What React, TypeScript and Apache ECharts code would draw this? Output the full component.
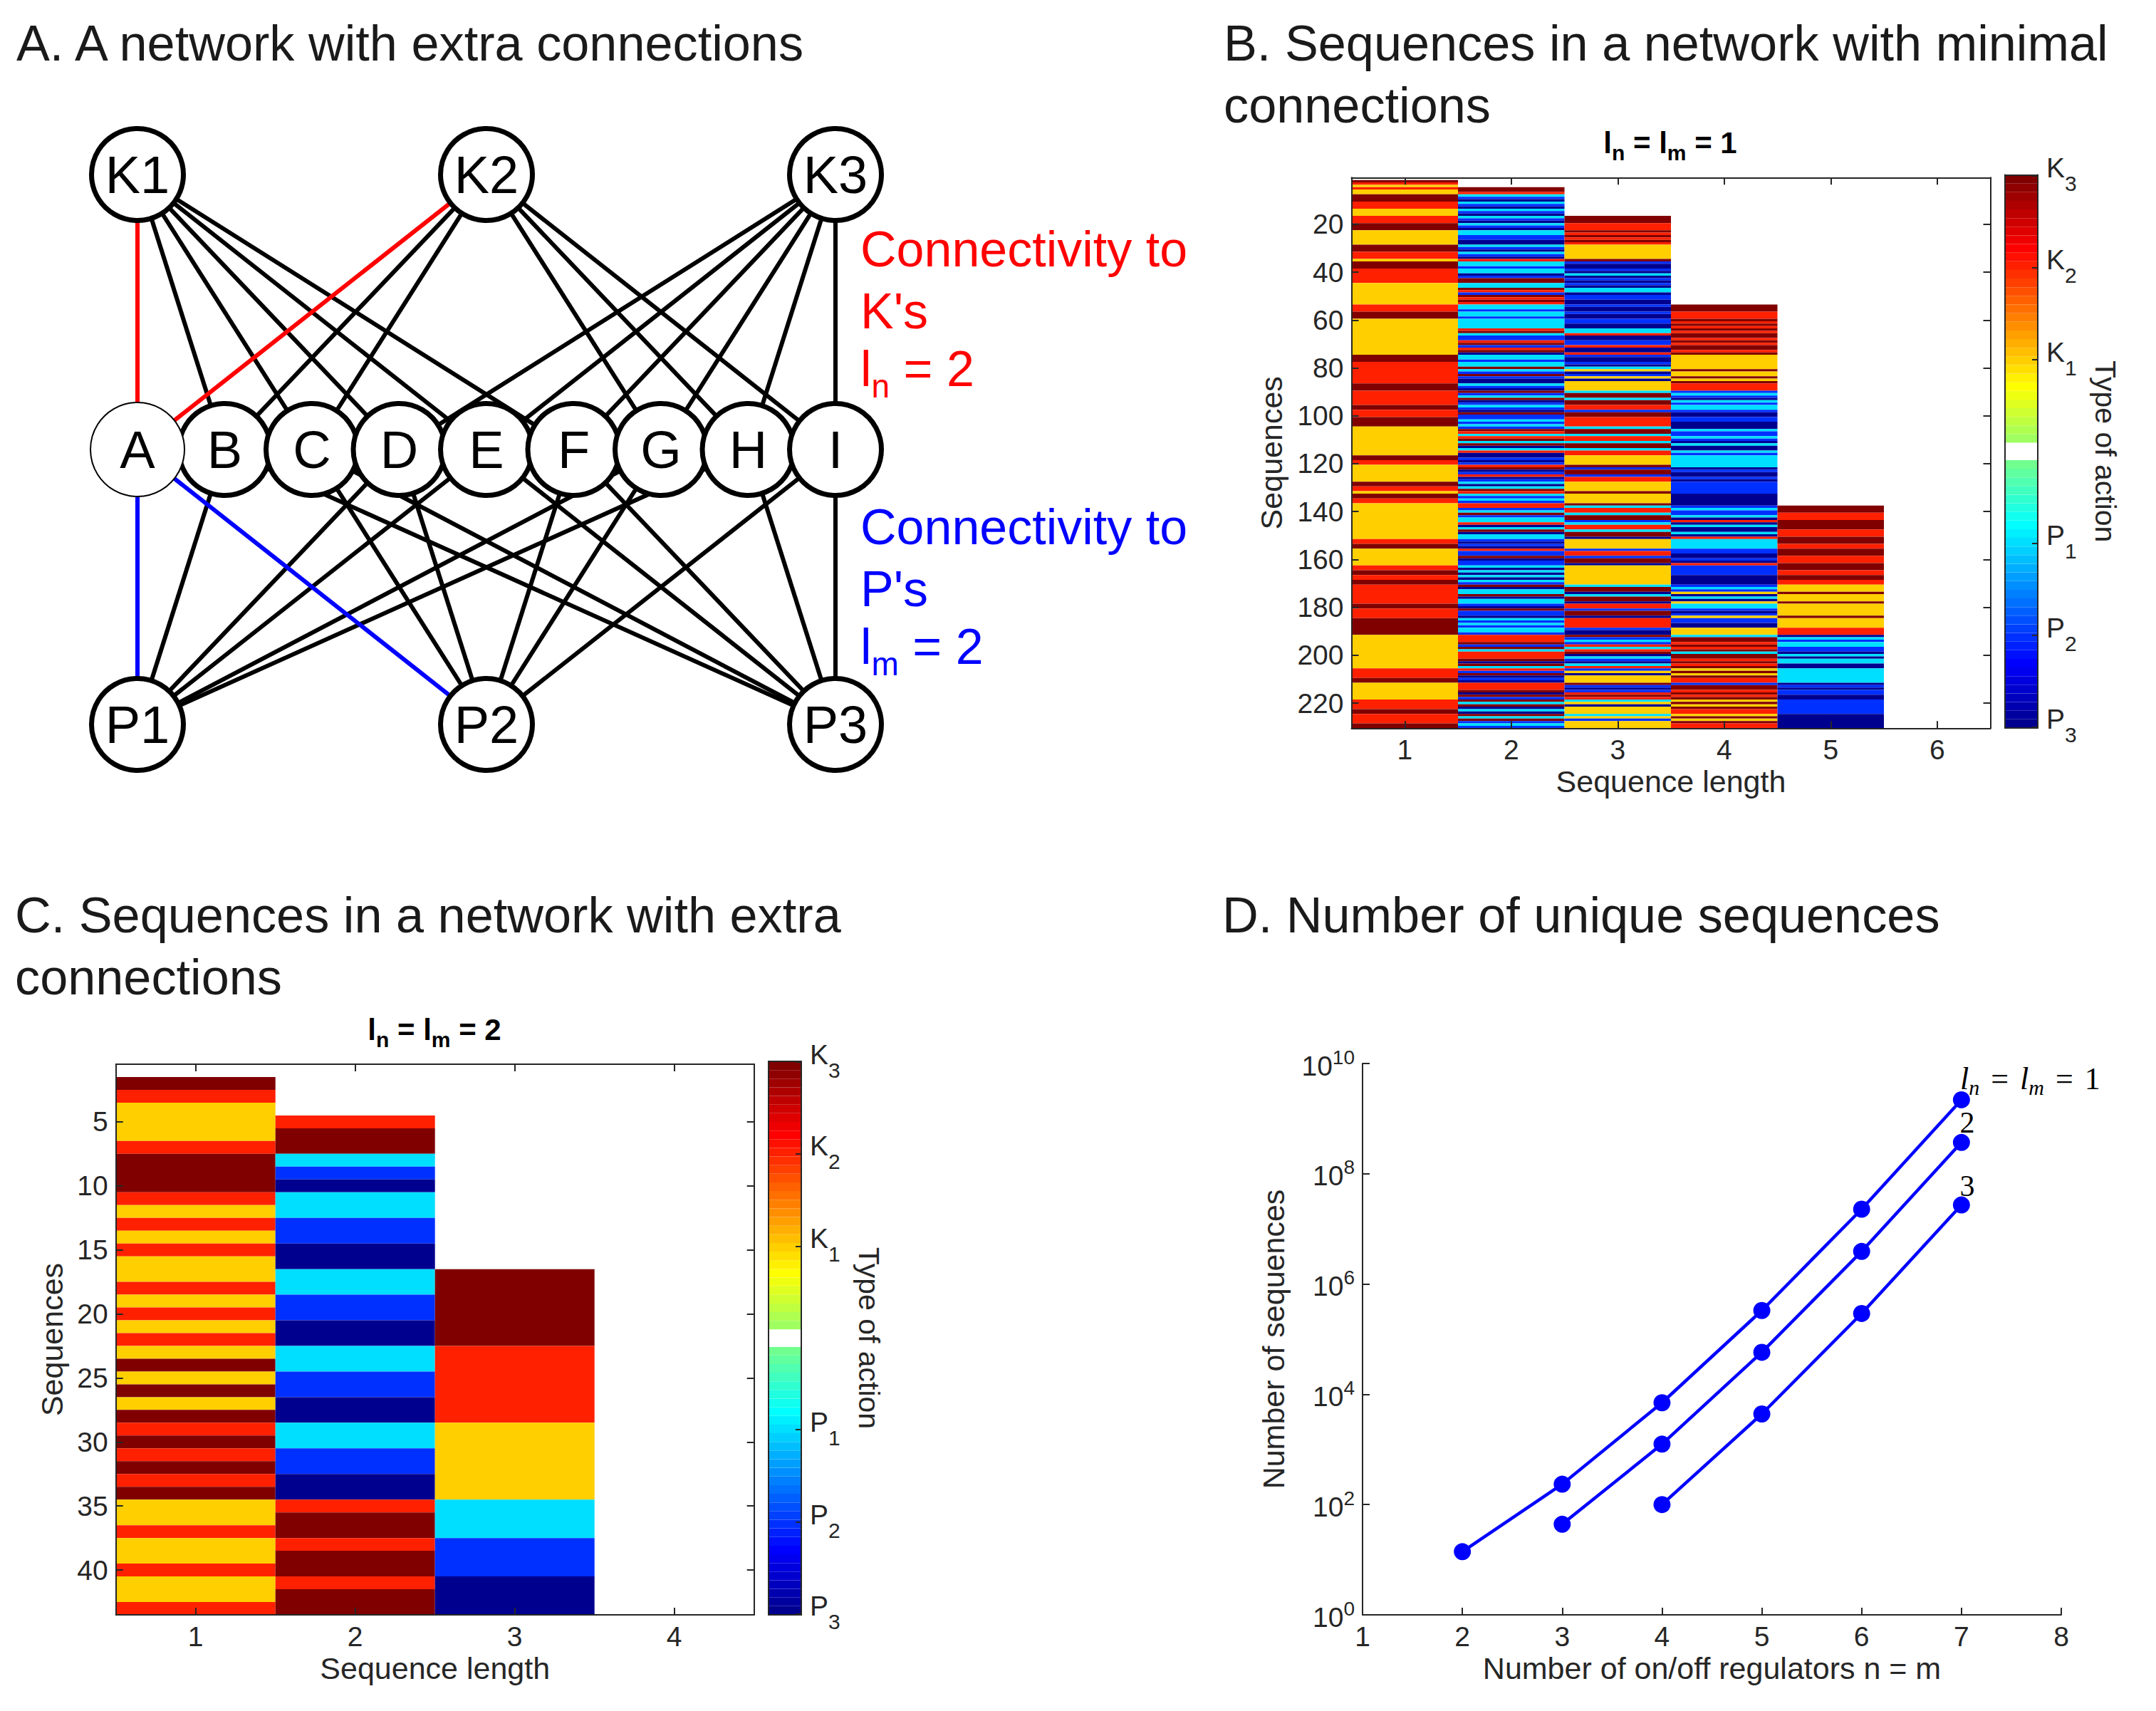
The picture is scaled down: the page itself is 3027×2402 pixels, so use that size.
import React, { useEffect, useRef } from "react";
import * as echarts from "echarts";

const WIDTH = 3027;
const HEIGHT = 2402;
const SANS = "Liberation Sans";
const INK = "#262626";

// MATLAB jet(64), bottom to top; the two middle levels are blanked in the original.
const jetLevels = [
  "#00008F", "#00009F", "#0000AF", "#0000BF", "#0000CF", "#0000DF", "#0000EF", "#0000FF",
  "#0010FF", "#0020FF", "#0030FF", "#0040FF", "#0050FF", "#0060FF", "#0070FF", "#0080FF",
  "#008FFF", "#009FFF", "#00AFFF", "#00BFFF", "#00CFFF", "#00DFFF", "#00EFFF", "#00FFFF",
  "#10FFEF", "#20FFDF", "#30FFCF", "#40FFBF", "#50FFAF", "#60FF9F", "#70FF8F", "#FFFFFF",
  "#FFFFFF", "#9FFF60", "#AFFF50", "#BFFF40", "#CFFF30", "#DFFF20", "#EFFF10", "#FFFF00",
  "#FFEF00", "#FFDF00", "#FFCF00", "#FFBF00", "#FFAF00", "#FF9F00", "#FF8F00", "#FF8000",
  "#FF7000", "#FF6000", "#FF5000", "#FF4000", "#FF3000", "#FF2000", "#FF1000", "#FF0000",
  "#EF0000", "#DF0000", "#CF0000", "#BF0000", "#AF0000", "#9F0000", "#8F0000", "#800000",
];
const colorbarTicks = [-31.9, -21.3, -10.6, 10.6, 21.3, 31.9];
const colorbarLabels = [["P", "3"], ["P", "2"], ["P", "1"], ["K", "1"], ["K", "2"], ["K", "3"]];

// action codes: d=K3 r=K2 y=K1 c=P1 b=P2 n=P3
const actionCodes = "nbcyrd";
const actionLevels = ["#00008F", "#0030FF", "#00DFFF", "#FFCF00", "#FF2000", "#800000"];

// Panel B, l_n = l_m = 1: rows of each sequence-length column
const bLength1Start = 2;
const bLength1 = ["dryryyddd", "rrryyyrrrd", "ddyyyyyydd", "drrrydddrr", "rrrryyyyyy", "yyyrrrdddy", "yyyyyyyyyy", "yyyydddrrr", "rrrrrrdddr", "rrrrrddrrr", "ddddyyyyyy", "yyyyyyddrr", "yyyyyyyddr", "ryddrryyyy", "yyyyyyyyyy", "yrrddyyyyy", "yyrrddrrdd", "rrrrrrrrdd", "rrrrdddddd", "dyyyyyyyyy", "yyyyyrrrrd", "dyyyyyyyrr", "rrddrrrrdd"];
const bLength2Start = 5;
const bLength2 = ["ddrcbn", "cbncbncbnc", "bnccbbnncb", "ncbnrccbcc", "nbddccdrbd", "rdrccbccbc", "cccrdcbbrd", "brdnccbccd", "cbdbnncbnd", "bcdnbcbndb", "bcbcbdrcrd", "cdncrn", "nbnbrdnbrn", "bcncdrcbcb", "rrbcdbccrn", "cdnccbnbnr", "bbdnbbcncn", "cncbdnccdn", "ccbndbbncb", "cbccbrrrdb", "dcrrrdndcr", "bdnbnrrrdn", "dbdcdncndc", "dbcb"];
const bLength3Start = 17;
const bLength3 = ["dddr", "rrdrdrdryy", "yyyydbnnbn", "cnbnbnccnb", "bnnbnnbnnb", "bnnccrnnbb", "rnnrbnnbnc", "ynbynyyyyc", "ddcddrrbdd", "rrrrcddcrr", "cddcrr", "yyyydbddbr", "ryyyydyyyy", "dcrrcddbcr", "rcddnyyyyb", "rrbddnyyyy", "yyyycddncd", "dnrrbddnrr", "rrbnndbcbr", "crdncbncrb", "ynyyydbnbr", "drcynyyycy", "byyy"];
const bLength4Start = 54;
const bLength4 = ["dddrrrd", "rdrdrddrdr", "ddrdyyyyyy", "dyydydrrrb", "cbncbccbnn", "bbnnncbbcb", "ncnncb", "cccccnbnnb", "nbbbbbnnnn", "nbcbbcnrnc", "nncnrccccb", "bnnbnrbbbb", "nnnnbcbync", "nyccbnbybb", "nnyyycddrd", "rdcddrdrdy", "dydrrbddrd", "rdydydrryd", "ydrr"];
const bLength5Start = 138;
const bLength5 = ["dddrrrddd", "drrrdddrrd", "ddrrrdddrr", "ddrryyydyy", "ydyyyyydyy", "yyrrrncbcc", "bbncnccnnc", "cccccnbnbb", "nnbbbbbbnn", "nnnn"];

// Panel C, l_n = l_m = 2
const cLength1Start = 2;
const cLength1 = ["dryyyrdddr", "yryryyryry", "rydydydrdr", "drdyyryyry", "yr"];
const cLength2Start = 5;
const cLength2 = ["rddcbn", "ccbbnn", "ccbbnn", "ccbbnn", "ccbbnn", "rddrddrdd"];
const cLength3Start = 17;
const cLength3 = ["dddddd", "rrrrrr", "yyyyyy", "ccc", "bbb", "nnn"];

const bCategories = [1, 2, 3, 4, 5, 6];
const bRowTicks = [20, 40, 60, 80, 100, 120, 140, 160, 180, 200, 220];
const cCategories = [1, 2, 3, 4];
const cRowTicks = [5, 10, 15, 20, 25, 30, 35, 40];

// Panel D
const regulators = [1, 2, 3, 4, 5, 6, 7, 8];
const dPowers = [1, 100, 10000, 1000000, 100000000, 10000000000];
const countsL1: [number, number][] = [[2, 14], [3, 234], [4, 7030], [5, 331000], [6, 22800000], [7, 2200000000]];
const countsL2: [number, number][] = [[3, 44], [4, 1250], [5, 57800], [6, 3900000], [7, 370000000]];
const countsL3: [number, number][] = [[4, 100], [5, 4400], [6, 292000], [7, 27200000]];

// Panel A
const topNodes = ["K1", "K2", "K3"];
const middleNodes = ["A", "B", "C", "D", "E", "F", "G", "H", "I"];
const bottomNodes = ["P1", "P2", "P3"];
const k1Links = ["B", "C", "D", "E", "F"];
const k2Links = ["B", "C", "G", "H", "I"];
const k3Links = ["D", "E", "F", "G", "H", "I"];
const p1Links = ["B", "D", "E", "G", "H"];
const p2Links = ["C", "D", "F", "G", "I"];
const p3Links = ["B", "C", "E", "F", "H", "I"];
const redLinks = [["K1", "A"], ["K2", "A"]];
const blueLinks = [["P1", "A"], ["P2", "A"]];

const subRich = (size: number, subSize: number, shift: number, color: string, weight = "normal", family = SANS) => ({
  t: { fontSize: size, fontFamily: family, fontWeight: weight, color, fill: color, padding: [0, 0, shift, 0] },
  s: { fontSize: subSize, fontFamily: family, fontWeight: weight, color, fill: color, padding: [shift, 0, 0, 0] },
});

function runs(start: number, chunks: string[], column: number) {
  const out: number[][] = [];
  const rows = chunks.join("");
  let from = 0;
  for (let i = 1; i <= rows.length; i++) {
    if (i === rows.length || rows[i] !== rows[from]) {
      out.push([column, start + from, start + i - 1, actionCodes.indexOf(rows[from])]);
      from = i;
    }
  }
  return out;
}

function heatItem(_: any, api: any) {
  const a = api.coord([api.value(0) - 0.5, api.value(1) - 0.5]);
  const b = api.coord([api.value(0) + 0.5, api.value(2) + 0.5]);
  return {
    type: "rect",
    shape: { x: a[0], y: a[1], width: b[0] - a[0], height: b[1] - a[1] },
    style: { fill: actionLevels[api.value(3)] },
  };
}

function barItem(_: any, api: any) {
  const a = api.coord([0, api.value(0) - 32]);
  const b = api.coord([1, api.value(0) - 31]);
  return {
    type: "rect",
    shape: { x: a[0], y: b[1], width: b[0] - a[0], height: a[1] - b[1] },
    style: { fill: jetLevels[api.value(0)] },
  };
}

const axisBase = {
  z: 10,
  axisLine: { show: true, onZero: false, lineStyle: { color: INK, width: 2 } },
  splitLine: { show: false },
  minorTick: { show: false },
};
const tickStyle = { inside: true, length: 10, lineStyle: { color: INK, width: 2 } };
const labelStyle = { color: INK, fontFamily: SANS, fontSize: 39, margin: 11, hideOverlap: false };
const nameStyle = { color: INK, fontFamily: SANS, fontSize: 43 };

function buildOption() {
  const grid: any[] = [];
  const xAxis: any[] = [];
  const yAxis: any[] = [];
  const series: any[] = [];

  const addHeat = (
    left: number, top: number, width: number, height: number,
    cats: number[], rowTicks: number[], rowMax: number, nameGapY: number,
    columns: number[][][],
  ) => {
    const gridIndex = grid.length;
    grid.push({ left, top, width, height });
    const xMin = 0.5;
    const xMax = cats.length + 0.5;
    const xA = {
      ...axisBase, type: "value", gridIndex, min: xMin, max: xMax,
      axisTick: { ...tickStyle, customValues: cats },
    };
    const yA = {
      ...axisBase, type: "value", gridIndex, min: 0.5, max: rowMax, inverse: true,
      axisTick: { ...tickStyle, customValues: rowTicks },
    };
    const xi = xAxis.length;
    const yi = yAxis.length;
    xAxis.push(
      {
        ...xA, position: "bottom",
        axisLabel: { ...labelStyle, customValues: cats },
        name: "Sequence length", nameLocation: "middle", nameGap: 53, nameTextStyle: nameStyle,
      },
      { ...xA, position: "top", axisLabel: { show: false } },
    );
    yAxis.push(
      {
        ...yA, position: "left",
        axisLabel: { ...labelStyle, customValues: rowTicks },
        name: "Sequences", nameLocation: "middle", nameGap: nameGapY, nameTextStyle: nameStyle,
      },
      { ...yA, position: "right", axisLabel: { show: false } },
    );
    series.push({
      type: "custom", coordinateSystem: "cartesian2d", xAxisIndex: xi, yAxisIndex: yi,
      renderItem: heatItem, clip: false, silent: true, z: 2,
      encode: { x: 0, y: [1, 2] },
      data: columns.flat(),
    });
  };

  const addColorbar = (left: number, top: number, width: number, height: number) => {
    const gridIndex = grid.length;
    grid.push({ left, top, width, height });
    const xBase = { ...axisBase, type: "value", gridIndex, min: 0, max: 1, axisTick: { show: false }, axisLabel: { show: false } };
    const yBase = { ...axisBase, type: "value", gridIndex, min: -32, max: 32 };
    const xi = xAxis.length;
    const yi = yAxis.length;
    xAxis.push({ ...xBase, position: "bottom" }, { ...xBase, position: "top" });
    yAxis.push(
      {
        ...yBase, position: "right",
        axisTick: { ...tickStyle, length: 8, customValues: colorbarTicks },
        axisLabel: {
          ...labelStyle, margin: 12, customValues: colorbarTicks,
          formatter: (v: number) => {
            const i = colorbarTicks.indexOf(v);
            const pair = colorbarLabels[i] || ["", ""];
            return `{t|${pair[0]}}{s|${pair[1]}}`;
          },
          rich: subRich(39, 30, 22, INK),
        },
        name: "Type of action", nameLocation: "middle", nameRotate: -90, nameGap: 74,
        nameTextStyle: { ...nameStyle, fontSize: 41 },
      },
      { ...yBase, position: "left", axisTick: { show: false }, axisLabel: { show: false } },
    );
    series.push({
      type: "custom", coordinateSystem: "cartesian2d", xAxisIndex: xi, yAxisIndex: yi,
      renderItem: barItem, clip: false, silent: true, z: 2,
      encode: { y: 0 },
      data: jetLevels.map((_, i) => [i]),
    });
  };

  // ---- Panel A: network
  {
    const gridIndex = grid.length;
    grid.push({ left: 193, top: 245, width: 980, height: 772 });
    const xi = xAxis.length;
    const yi = yAxis.length;
    xAxis.push({ type: "value", gridIndex, min: 0, max: 8, show: false });
    yAxis.push({ type: "value", gridIndex, min: 0, max: 2, inverse: true, show: false });
    const node = (name: string, x: number, y: number, thin = false) => ({
      name, value: [x, y],
      symbol: "circle",
      symbolSize: thin ? 132 : 129,
      itemStyle: { color: "#FFFFFF", borderColor: "#000000", borderWidth: thin ? 2 : 7, opacity: 1 },
    });
    const nodes = [
      ...topNodes.map((n, i) => node(n, i * 4, 0)),
      ...bottomNodes.map((n, i) => node(n, i * 4, 2)),
      ...middleNodes.slice(1).map((n, i) => node(n, i + 1, 1)),
      node(middleNodes[0], 0, 1, true),
    ];
    const link = (source: string, target: string, color = "#000000") => ({
      source, target, lineStyle: { color, width: 6, opacity: 1, curveness: 0 },
    });
    const links = [
      ...k1Links.map((t) => link("K1", t)),
      ...k2Links.map((t) => link("K2", t)),
      ...k3Links.map((t) => link("K3", t)),
      ...p1Links.map((t) => link("P1", t)),
      ...p2Links.map((t) => link("P2", t)),
      ...p3Links.map((t) => link("P3", t)),
      ...redLinks.map(([s, t]) => link(s, t, "#FF0000")),
      ...blueLinks.map(([s, t]) => link(s, t, "#0000FF")),
    ];
    series.push({
      type: "graph", coordinateSystem: "cartesian2d", xAxisIndex: xi, yAxisIndex: yi,
      layout: "none", silent: true, roam: false,
      label: { show: true, position: "inside", color: "#000000", fontFamily: SANS, fontSize: 74, formatter: "{b}" },
      edgeSymbol: ["none", "none"],
      data: nodes, links,
    });
  }

  // ---- Panel B
  addHeat(1897.5, 249.3, 897, 773, bCategories, bRowTicks, 230.5, 91, [
    runs(bLength1Start, bLength1, 1),
    runs(bLength2Start, bLength2, 2),
    runs(bLength3Start, bLength3, 3),
    runs(bLength4Start, bLength4, 4),
    runs(bLength5Start, bLength5, 5),
  ]);
  addColorbar(2815, 245.5, 46, 776.5);

  // ---- Panel C
  addHeat(162.7, 1494, 896, 773, cCategories, cRowTicks, 43.5, 68, [
    runs(cLength1Start, cLength1, 1),
    runs(cLength2Start, cLength2, 2),
    runs(cLength3Start, cLength3, 3),
  ]);
  addColorbar(1079, 1490, 46, 777);

  // ---- Panel D
  {
    const gridIndex = grid.length;
    grid.push({ left: 1913, top: 1493, width: 981, height: 774 });
    const xi = xAxis.length;
    const yi = yAxis.length;
    xAxis.push({
      ...axisBase, type: "value", gridIndex, min: 1, max: 8, position: "bottom",
      axisTick: { ...tickStyle, customValues: regulators },
      axisLabel: { ...labelStyle, customValues: regulators },
      name: "Number of on/off regulators n = m", nameLocation: "middle", nameGap: 53, nameTextStyle: nameStyle,
    });
    yAxis.push({
      ...axisBase, type: "log", logBase: 10, gridIndex, min: 1, max: 1e10, position: "left",
      axisTick: { ...tickStyle, customValues: dPowers },
      axisLabel: {
        ...labelStyle,
        customValues: dPowers,
        formatter: (v: number) => `{t|10}{s|${Math.round(Math.log10(v))}}`,
        rich: {
          t: { fontSize: 39, fontFamily: SANS, color: INK, padding: [6, 0, 0, 0] },
          s: { fontSize: 28, fontFamily: SANS, color: INK, padding: [0, 0, 18, 0] },
        },
      },
      name: "Number of sequences", nameLocation: "middle", nameGap: 104, nameTextStyle: nameStyle,
    });
    [countsL1, countsL2, countsL3].forEach((data) => {
      series.push({
        type: "line", xAxisIndex: xi, yAxisIndex: yi, data, z: 3,
        symbol: "circle", symbolSize: 24, silent: true,
        lineStyle: { color: "#0000FF", width: 4.5 },
        itemStyle: { color: "#0000FF" },
      });
    });
  }

  const heading = (text: string, x: number, y: number) => ({
    type: "text", x, y,
    style: { text, fontFamily: SANS, fontSize: 70.25, fill: "#1A1A1A", verticalAlign: "middle", align: "left" },
  });
  const richText = (text: string, x: number, y: number, rich: any, align = "left") => ({
    type: "text", x, y,
    style: { text, rich, verticalAlign: "middle", align },
  });
  const plain = (text: string, x: number, y: number, color: string) => ({
    type: "text", x, y,
    style: { text, fontFamily: SANS, fontSize: 70, fill: color, verticalAlign: "middle", align: "left" },
  });
  const boldRich = subRich(42, 30, 14, "#000000", "bold");
  const nLabelRich = {
    t: { fontFamily: "Liberation Serif", fontSize: 44, fill: "#000000", fontStyle: "italic", padding: [0, 0, 12, 0] },
    u: { fontFamily: "Liberation Serif", fontSize: 44, fill: "#000000", padding: [0, 5, 12, 5] },
    w: { fontFamily: "Liberation Serif", fontSize: 44, fill: "#000000", padding: [0, 0, 12, 0] },
    s: { fontFamily: "Liberation Serif", fontSize: 30, fill: "#000000", fontStyle: "italic", padding: [12, 0, 0, 0] },
  };

  return {
    animation: false,
    backgroundColor: "#FFFFFF",
    grid, xAxis, yAxis, series,
    graphic: {
      elements: [
        heading("A. A network with extra connections", 23, 60),
        heading("B. Sequences in a network with minimal", 1718, 60),
        heading("connections", 1718, 147),
        heading("C. Sequences in a network with extra", 21, 1284),
        heading("connections", 21, 1371),
        heading("D. Number of unique sequences", 1716, 1284),
        plain("Connectivity to", 1208, 350, "#FF0000"),
        plain("K's", 1208, 437, "#FF0000"),
        richText("{t|l}{s|n}{t| = 2}", 1208, 530, subRich(70, 46, 24, "#FF0000")),
        plain("Connectivity to", 1208, 740, "#0000FF"),
        plain("P's", 1208, 827, "#0000FF"),
        richText("{t|l}{s|m}{t| = 2}", 1208, 920, subRich(70, 46, 24, "#0000FF")),
        richText("{t|l}{s|n}{t| = l}{s|m}{t| = 1}", 2345, 207, boldRich, "center"),
        richText("{t|l}{s|n}{t| = l}{s|m}{t| = 2}", 610, 1452, boldRich, "center"),
        richText("{t|l}{s|n}{u| = }{t|l}{s|m}{u| = }{w|1}", 2752, 1520, nLabelRich),
        {
          type: "text", x: 2762, y: 1576,
          style: { text: "2", fontFamily: "Liberation Serif", fontSize: 42, fill: "#000000", verticalAlign: "middle", align: "center" },
        },
        {
          type: "text", x: 2762, y: 1665,
          style: { text: "3", fontFamily: "Liberation Serif", fontSize: 42, fill: "#000000", verticalAlign: "middle", align: "center" },
        },
      ],
    },
  };
}

export default function App() {
  const ref = useRef<HTMLDivElement>(null);
  useEffect(() => {
    document.body.style.margin = "0";
    const chart = echarts.init(ref.current!, undefined, { renderer: "svg", width: WIDTH, height: HEIGHT });
    chart.setOption(buildOption() as any);
    return () => chart.dispose();
  }, []);
  return <div ref={ref} style={{ width: WIDTH, height: HEIGHT }} />;
}
